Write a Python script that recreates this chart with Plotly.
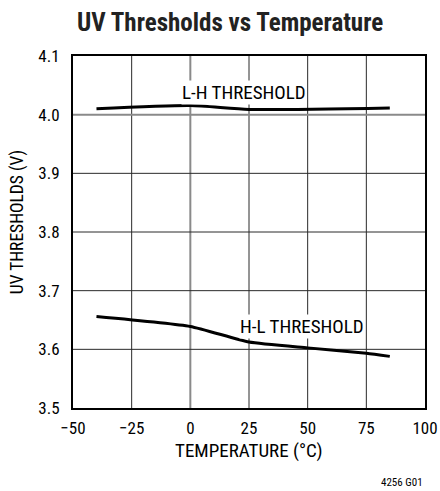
import plotly.graph_objects as go

temp_lh = [-40, 0, 25, 85]
uv_lh = [4.010, 4.0155, 4.009, 4.0115]
temp_hl = [-40, 0, 25, 50, 75, 85]
uv_hl = [3.656, 3.639, 3.6125, 3.6025, 3.5935, 3.588]

x_ticks = [-50, -25, 0, 25, 50, 75, 100]
x_tick_text = ["\u221250", "\u221225", "0", "25", "50", "75", "100"]
y_ticks = [3.5, 3.6, 3.7, 3.8, 3.9, 4.0, 4.1]
y_tick_text = ["3.5", "3.6", "3.7", "3.8", "3.9", "4.0", "4.1"]
gray_x = [0]
gray_y = [4.0]

FONT = "Roboto Condensed, Liberation Sans Narrow, Arial Narrow, sans-serif"

fig = go.Figure()

# grid lines derived from tick values
for xv in x_ticks[1:-1]:
    g = xv in gray_x
    fig.add_shape(type="line", xref="x", x0=xv, x1=xv, yref="paper", y0=0, y1=1,
                  line=dict(color="#8a8a8a" if g else "#2a2a2a", width=2 if g else 1),
                  layer="below")
for yv in y_ticks[1:-1]:
    g = yv in gray_y
    fig.add_shape(type="line", xref="paper", x0=0, x1=1, yref="y", y0=yv, y1=yv,
                  line=dict(color="#8a8a8a" if g else "#2a2a2a", width=2 if g else 1),
                  layer="below")

fig.add_trace(go.Scatter(x=temp_lh, y=uv_lh, mode="lines",
                         line=dict(color="black", width=3, shape="spline", smoothing=0.6),
                         showlegend=False, hoverinfo="skip"))
fig.add_trace(go.Scatter(x=temp_hl, y=uv_hl, mode="lines",
                         line=dict(color="black", width=3, shape="spline", smoothing=0.5),
                         showlegend=False, hoverinfo="skip"))

fig.add_annotation(x=23, y=4.038, text="L-H THRESHOLD", showarrow=False,
                   font=dict(family=FONT, size=19, color="black"), bgcolor="white",
                   borderpad=0)
fig.add_annotation(x=47.5, y=3.639, text="H-L THRESHOLD", showarrow=False,
                   font=dict(family=FONT, size=19, color="black"), bgcolor="white",
                   borderpad=0)
# axis titles
fig.add_annotation(x=0.5, xref="paper", y=-0.122, yref="paper", yanchor="middle",
                   text="TEMPERATURE (\u00b0C)", showarrow=False,
                   font=dict(family=FONT, size=19, color="black"))
fig.add_annotation(x=-0.159, xref="paper", xanchor="center", y=0.528, yref="paper",
                   yanchor="middle", textangle=-90,
                   text="UV THRESHOLDS (V)", showarrow=False,
                   font=dict(family=FONT, size=17.5, color="black"))
fig.add_annotation(x=1.0, xref="paper", xanchor="right", y=-0.213, yref="paper",
                   yanchor="middle", text="4256 G01", showarrow=False,
                   font=dict(family=FONT, size=11, color="black"))

fig.update_layout(
    width=440, height=491,
    margin=dict(l=73, r=15, t=56, b=83, autoexpand=False),
    paper_bgcolor="white", plot_bgcolor="white",
    title=dict(text="<b>UV Thresholds vs Temperature</b>", x=0.523, xanchor="center",
               xref="container", yref="container",
               y=1 - 22 / 491, yanchor="middle",
               font=dict(family=FONT, size=25, color="#222")),
    font=dict(family=FONT, size=17, color="black"),
    hovermode=False,
)
fig.update_xaxes(range=[-50, 100], tickvals=x_ticks, ticktext=x_tick_text,
                 showgrid=False, zeroline=False, automargin=False,
                 showline=True, linecolor="black", linewidth=2, mirror=True,
                 ticks="", ticklabelstandoff=4,
                 tickfont=dict(family=FONT, size=17))
fig.update_yaxes(range=[3.5, 4.1], tickvals=y_ticks, ticktext=y_tick_text,
                 showgrid=False, zeroline=False, automargin=False,
                 showline=True, linecolor="black", linewidth=2, mirror=True,
                 ticks="", ticklabelstandoff=8,
                 tickfont=dict(family=FONT, size=17))

fig.write_html("out.html", config={"displayModeBar": False},
               post_script="document.body.style.margin='0';")
